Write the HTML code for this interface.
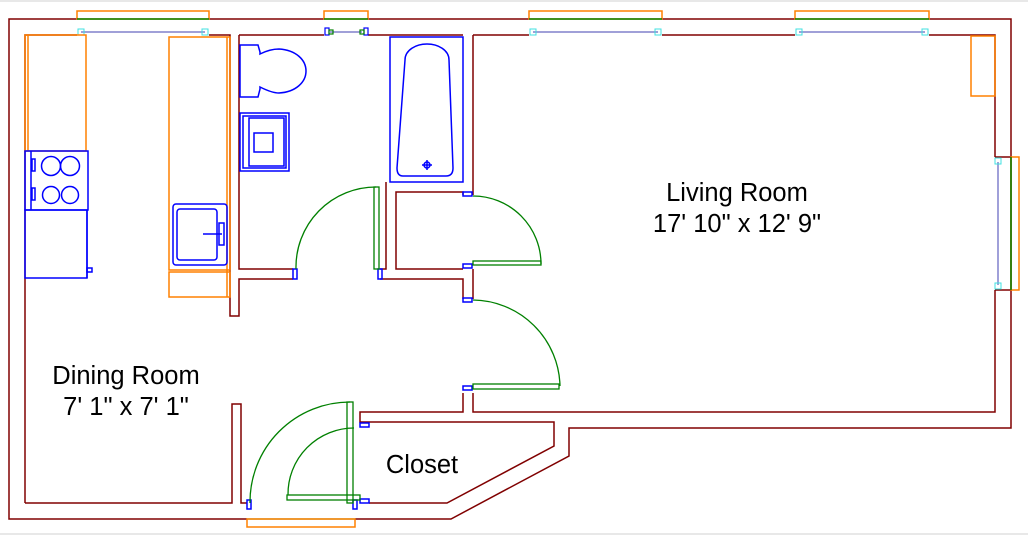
<!DOCTYPE html>
<html><head><meta charset="utf-8"><style>
html,body{margin:0;padding:0;background:#fff;}
svg{display:block;}
text{font-family:"Liberation Sans",sans-serif;font-size:25.5px;fill:#000;}
</style></head><body>
<svg width="1028" height="536" viewBox="0 0 1028 536" xmlns="http://www.w3.org/2000/svg">
<rect x="0" y="0" width="1028" height="536" fill="#fff"/>
<line x1="0" y1="1" x2="1028" y2="1" stroke="#e8e8e8" stroke-width="2"/>
<line x1="0" y1="534" x2="1028" y2="534" stroke="#e8e8e8" stroke-width="2"/>
<g fill="none" stroke="#800000" stroke-width="1.5">
<polyline points="77,19 9,19 9,519 247,519"/>
<polyline points="209,19 324,19"/>
<polyline points="368,19 529,19"/>
<polyline points="662,19 795,19"/>
<polyline points="929,19 1011,19 1011,428 569,428 569,456 451,519 355,519"/>
<line x1="1011" y1="157" x2="995" y2="157"/>
<line x1="1011" y1="290" x2="995" y2="290"/>
<polyline points="25,503 25,35 77,35"/>
<polyline points="209,35 230,35 230,316 239,316 239,279 293,279"/>
<polyline points="239,35 324,35"/>
<polyline points="368,35 463,35"/>
<polyline points="293,269 239,269 239,35"/>
<polyline points="380,269 386,269 386,182"/>
<polyline points="473,35 529,35"/>
<polyline points="662,35 795,35"/>
<polyline points="929,35 995,35 995,157"/>
<polyline points="995,290 995,412 473,412 473,393"/>
<polyline points="473,195 473,35"/>
<line x1="473" y1="269" x2="473" y2="299"/>
<polyline points="463,195 463,192 396,192 396,269 463,269"/>
<polyline points="380,279 463,279 463,299"/>
<polyline points="463,393 463,412 360,412 360,422 369,422"/>
<polyline points="369,422 554,422 554,446 447,503 369,503"/>
<polyline points="25,503 232,503 232,404 241,404 241,503 247,503"/>
</g>
<g fill="none" stroke-width="1.5">
<rect x="77" y="11" width="132" height="8" stroke="#ff8000"/>
<line x1="77" y1="19" x2="209" y2="19" stroke="#008000"/>
<line x1="81" y1="32" x2="205" y2="32" stroke="#8080cc"/>
<rect x="324" y="11" width="44" height="8" stroke="#ff8000"/>
<line x1="324" y1="19" x2="368" y2="19" stroke="#008000"/>
<line x1="330" y1="32" x2="362" y2="32" stroke="#8080cc"/>
<rect x="529" y="11" width="133" height="8" stroke="#ff8000"/>
<line x1="529" y1="19" x2="662" y2="19" stroke="#008000"/>
<line x1="533" y1="32" x2="658" y2="32" stroke="#8080cc"/>
<rect x="795" y="11" width="134" height="8" stroke="#ff8000"/>
<line x1="795" y1="19" x2="929" y2="19" stroke="#008000"/>
<line x1="799" y1="32" x2="925" y2="32" stroke="#8080cc"/>
<rect x="1011" y="157" width="8" height="133" stroke="#ff8000"/>
<line x1="1011" y1="157" x2="1011" y2="290" stroke="#008000"/>
<line x1="998" y1="162" x2="998" y2="285" stroke="#8080cc"/>
</g>
<g fill="none" stroke="#40e0e0" stroke-width="1">
<rect x="78" y="29" width="6" height="6"/><rect x="202" y="29" width="6" height="6"/>
<rect x="530" y="29" width="6" height="6"/><rect x="655" y="29" width="6" height="6"/>
<rect x="796" y="29" width="6" height="6"/><rect x="922" y="29" width="6" height="6"/>
<rect x="995" y="158" width="6" height="6"/><rect x="995" y="283" width="6" height="6"/>
</g>
<g fill="none" stroke="#0000ff" stroke-width="1.2">
<rect x="325" y="28" width="4" height="7"/><rect x="364" y="28" width="4" height="7"/>
</g>
<g fill="none" stroke="#008000" stroke-width="1.2">
<rect x="329" y="30" width="4" height="4"/><rect x="360" y="30" width="4" height="4"/>
</g>
<g fill="none" stroke="#ff8000" stroke-width="1.5">
<rect x="25" y="35" width="61" height="116"/>
<line x1="28" y1="35" x2="28" y2="151"/>
<rect x="169" y="37" width="61" height="233"/>
<line x1="227" y1="37" x2="227" y2="297"/>
<rect x="169" y="272" width="61" height="25"/>
</g>
<g fill="none" stroke="#0000ff" stroke-width="1.5">
<rect x="25" y="151" width="63" height="59"/>
<line x1="31" y1="151" x2="31" y2="210"/>
<circle cx="51" cy="166" r="9.5"/><circle cx="70" cy="166" r="9.5"/>
<circle cx="51" cy="195" r="8.5"/><circle cx="70" cy="195" r="8.5"/>
<rect x="32" y="159" width="3" height="12"/><rect x="32" y="188" width="3" height="12"/>
<rect x="25" y="210" width="62" height="68"/>
<line x1="87" y1="210" x2="87" y2="278"/>
<rect x="87" y="268" width="5" height="4"/>
<rect x="173" y="204" width="54" height="61" rx="3"/>
<rect x="177" y="209" width="40" height="51" rx="3"/>
<line x1="203" y1="234" x2="222" y2="234"/>
<rect x="219" y="223" width="5" height="22"/>
<path d="M240,45 H258 L260,52 V54 C268,50 275,49 279,49 C296,50 306,60 306,71 C306,82 296,92 279,93 C275,93 268,91 260,87 V89 L258,97 H240 Z"/>
<rect x="240" y="113" width="49" height="58"/>
<rect x="243" y="116" width="43" height="52"/>
<rect x="249" y="118" width="35" height="48"/>
<rect x="254" y="133" width="19" height="19"/>
<rect x="390" y="37" width="73" height="145"/>
<path d="M405,60 C405,50 416,44 427,44 C438,44 449,50 449,60 L453,168 C453,173 451,176 446,176 H403 C399,176 397,173 397,168 Z"/>
<circle cx="427" cy="165" r="3"/>
<line x1="422" y1="165" x2="432" y2="165"/><line x1="427" y1="160" x2="427" y2="170"/>
<rect x="293" y="269" width="4" height="10"/>
<rect x="378" y="269" width="4" height="10"/>
<rect x="463" y="192" width="9" height="4"/>
<rect x="463" y="264" width="9" height="4"/>
<rect x="463" y="298" width="9" height="4"/>
<rect x="463" y="386" width="9" height="4"/>
<rect x="360" y="423" width="9" height="4"/>
<rect x="360" y="499" width="9" height="4"/>
<rect x="247" y="500" width="4" height="9"/>
<rect x="353" y="500" width="4" height="9"/>
</g>
<g fill="none" stroke="#008000" stroke-width="1.3">
<path d="M296,269 A80,80 0 0 1 376,187"/>
<rect x="374" y="187" width="5" height="82"/>
<path d="M473,196 A68,68 0 0 1 541,264"/>
<rect x="473" y="261" width="68" height="4"/>
<path d="M473,300 A88,88 0 0 1 560,386"/>
<rect x="473" y="384" width="86" height="5"/>
<path d="M250,503 A100,100 0 0 1 350,402"/>
<rect x="347" y="402" width="6" height="101"/>
<path d="M288,495 A66,66 0 0 1 354,428"/>
<rect x="287" y="495" width="73" height="5"/>
<line x1="247" y1="519" x2="355" y2="519"/>
</g>
<rect x="247" y="519" width="108" height="8" fill="none" stroke="#ff8000" stroke-width="1.5"/>
<rect x="971" y="36" width="24" height="60" fill="none" stroke="#ff8000" stroke-width="1.5"/>
<text x="737" y="201" text-anchor="middle">Living Room</text>
<text x="737" y="232" text-anchor="middle">17' 10" x 12' 9"</text>
<text x="126" y="384" text-anchor="middle">Dining Room</text>
<text x="126" y="415" text-anchor="middle">7' 1" x 7' 1"</text>
<text x="422" y="473" text-anchor="middle">Closet</text>
</svg>
</body></html>
